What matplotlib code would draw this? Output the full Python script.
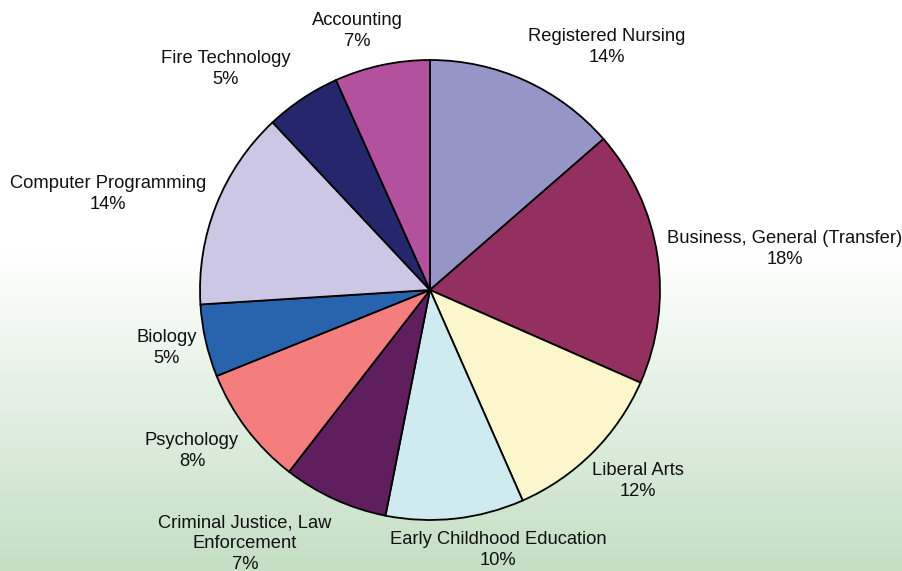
import matplotlib
matplotlib.use("Agg")
import matplotlib.pyplot as plt
import numpy as np

# programs and their share of the total (percent), clockwise from 12 o'clock
programs = ["Registered Nursing", "Business, General (Transfer)", "Liberal Arts",
            "Early Childhood Education", "Criminal Justice, Law\nEnforcement",
            "Psychology", "Biology", "Computer Programming", "Fire Technology",
            "Accounting"]
shares = [13.6, 18.0, 11.8, 9.7, 7.4, 8.4, 5.1, 14.0, 5.3, 6.7]
colors = ["#9595c8", "#93305f", "#fbf6cc", "#d0ebef", "#5f1f5f",
          "#f47e7e", "#2864ae", "#cbc7e4", "#26266d", "#b4519e"]

# label centres in pixel coords (x from left, y from top)
label_pos = [(607, 47), (785, 249), (638, 481), (498, 550), (245, 544),
             (192, 451), (167, 348), (108, 194), (226, 69), (357, 31)]

W, H = 903, 571
plt.rcParams["font.family"] = ["Liberation Sans", "DejaVu Sans"]

fig = plt.figure(figsize=(W / 100, H / 100), dpi=100)
ax = fig.add_axes([0, 0, 1, 1])

# background: white on top, fading to pale green at the bottom
rows = np.linspace(0, 1, H)[:, None]  # 0 at top
t = np.clip((rows - 0.44) / 0.56, 0, 1)
top = np.array([1.0, 1.0, 1.0])
bottom = np.array([196, 223, 196]) / 255
grad = (top * (1 - t) + bottom * t)[:, :, None].repeat(W, axis=2).transpose(0, 2, 1)
ax.imshow(grad, extent=(0, W, 0, H), origin="upper", zorder=0, aspect="auto")

ax.pie(shares, colors=colors, startangle=90, counterclock=False,
       center=(430, H - 290), radius=230, frame=True,
       wedgeprops=dict(edgecolor="black", linewidth=1.3))
ax.set_xlim(0, W)
ax.set_ylim(0, H)
ax.set_aspect("equal")
ax.axis("off")

for name, v, (x, y) in zip(programs, shares, label_pos):
    ax.text(x, H - y, f"{name}\n{v:.0f}%", ha="center", va="center",
            fontsize=13.2, color="#111111", linespacing=1.3)

fig.savefig("out.png", dpi=100)
